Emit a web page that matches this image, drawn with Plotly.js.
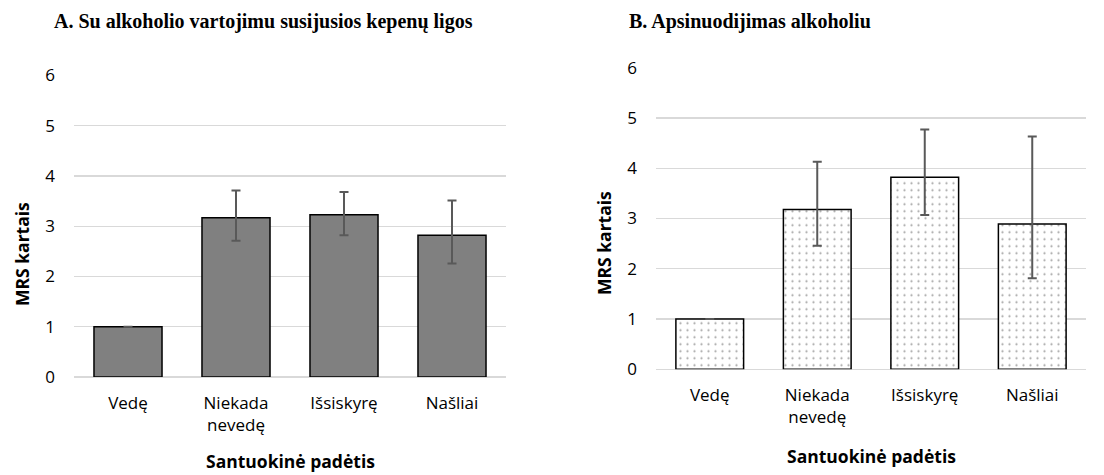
<!DOCTYPE html>
<html>
<head>
<meta charset="utf-8">
<script src="https://cdn.plot.ly/plotly-3.0.1.min.js"></script>
<style>html,body{margin:0;padding:0;background:#fff;}#chart{width:1104px;height:475px;}</style>
</head>
<body>
<div id="chart"></div>
<script>
// ---- data ----
const categories = ["Vedę", "Niekada<br>nevedę", "Išsiskyrę", "Našliai"];
const titleA = "A. Su alkoholio vartojimu susijusios kepenų ligos";
const titleB = "B. Apsinuodijimas alkoholiu";
const yTitle = "MRS kartais";
const xTitle = "Santuokinė padėtis";
const valuesA = [1.00, 3.17, 3.23, 2.82];
const upperA  = [1.00, 3.71, 3.68, 3.51];
const lowerA  = [1.00, 2.71, 2.82, 2.26];
const valuesB = [1.00, 3.18, 3.82, 2.89];
const upperB  = [1.00, 4.13, 4.77, 4.63];
const lowerB  = [1.00, 2.46, 3.07, 1.81];
const yTicks  = [0, 1, 2, 3, 4, 5, 6];

const W = 1104, H = 475;
const errStyle = {type: "data", symmetric: false, color: "#595959", thickness: 2, width: 4.5};

const traceA = {
  type: "bar", x: categories, y: valuesA, xaxis: "x", yaxis: "y",
  marker: {color: "#808080", line: {color: "#000000", width: 1.5}},
  error_y: Object.assign({}, errStyle, {
    array: upperA.map((u, i) => u - valuesA[i]),
    arrayminus: lowerA.map((l, i) => valuesA[i] - l)
  }),
  hoverinfo: "skip"
};
const traceB = {
  type: "bar", x: categories, y: valuesB, xaxis: "x2", yaxis: "y2",
  marker: {color: "#ffffff", line: {color: "#000000", width: 1.5},
           pattern: {shape: ".", fgcolor: "#a3a3a3", bgcolor: "#ffffff", size: 7, solidity: 0.08}},
  error_y: Object.assign({}, errStyle, {
    array: upperB.map((u, i) => u - valuesB[i]),
    arrayminus: lowerB.map((l, i) => valuesB[i] - l)
  }),
  hoverinfo: "skip"
};

const tickFont = {family: "Open Sans", size: 17, color: "#000000"};
function xAxis(domain, anchor) {
  return {domain: domain, anchor: anchor, type: "category", showgrid: false, zeroline: false,
          showline: false, ticks: "", tickfont: tickFont, ticklabelstandoff: 14, automargin: false};
}
function yAxis(domain, anchor) {
  return {domain: domain, anchor: anchor, range: [0, 6], tickvals: yTicks, showgrid: true,
          gridcolor: "#d9d9d9", gridwidth: 1.3, zeroline: true, zerolinecolor: "#d9d9d9", zerolinewidth: 1.3,
          showline: false, ticks: "", tickfont: tickFont, ticklabelstandoff: 18, automargin: false};
}

const axTitleFont = {family: "Open Sans", size: 17.5, color: "#000000", weight: "bold"};
const mainFont = {family: "Liberation Serif", size: 20, color: "#000000", weight: "bold"};

const layout = {
  width: W, height: H,
  margin: {l: 0, r: 0, t: 0, b: 0},
  paper_bgcolor: "#ffffff", plot_bgcolor: "#ffffff",
  showlegend: false, bargap: 0.37,
  font: {family: "Open Sans"},
  xaxis: xAxis([74 / W, 506 / W], "y"),
  yaxis: yAxis([(H - 377) / H, (H - 75.5) / H], "x"),
  xaxis2: xAxis([656 / W, 1086 / W], "y2"),
  yaxis2: yAxis([(H - 369.3) / H, (H - 67.7) / H], "x2"),
  annotations: [
    {text: "<b>" + titleA + "</b>", xref: "paper", yref: "paper", x: 52 / W, y: 1 - 22 / H,
     xanchor: "left", yanchor: "middle", showarrow: false, font: mainFont},
    {text: "<b>" + titleB + "</b>", xref: "paper", yref: "paper", x: 627 / W, y: 1 - 21 / H,
     xanchor: "left", yanchor: "middle", showarrow: false, font: mainFont},
    {text: "<b>" + yTitle + "</b>", xref: "paper", yref: "paper", x: 22 / W, y: 1 - 254 / H,
     xanchor: "center", yanchor: "middle", textangle: -90, showarrow: false, font: axTitleFont},
    {text: "<b>" + yTitle + "</b>", xref: "paper", yref: "paper", x: 604 / W, y: 1 - 243 / H,
     xanchor: "center", yanchor: "middle", textangle: -90, showarrow: false, font: axTitleFont},
    {text: "<b>" + xTitle + "</b>", xref: "paper", yref: "paper", x: 290 / W, y: 1 - 461 / H,
     xanchor: "center", yanchor: "middle", showarrow: false, font: axTitleFont},
    {text: "<b>" + xTitle + "</b>", xref: "paper", yref: "paper", x: 871 / W, y: 1 - 456 / H,
     xanchor: "center", yanchor: "middle", showarrow: false, font: axTitleFont}
  ]
};

Plotly.newPlot("chart", [traceA, traceB], layout, {displayModeBar: false, staticPlot: true});
</script>
</body>
</html>
